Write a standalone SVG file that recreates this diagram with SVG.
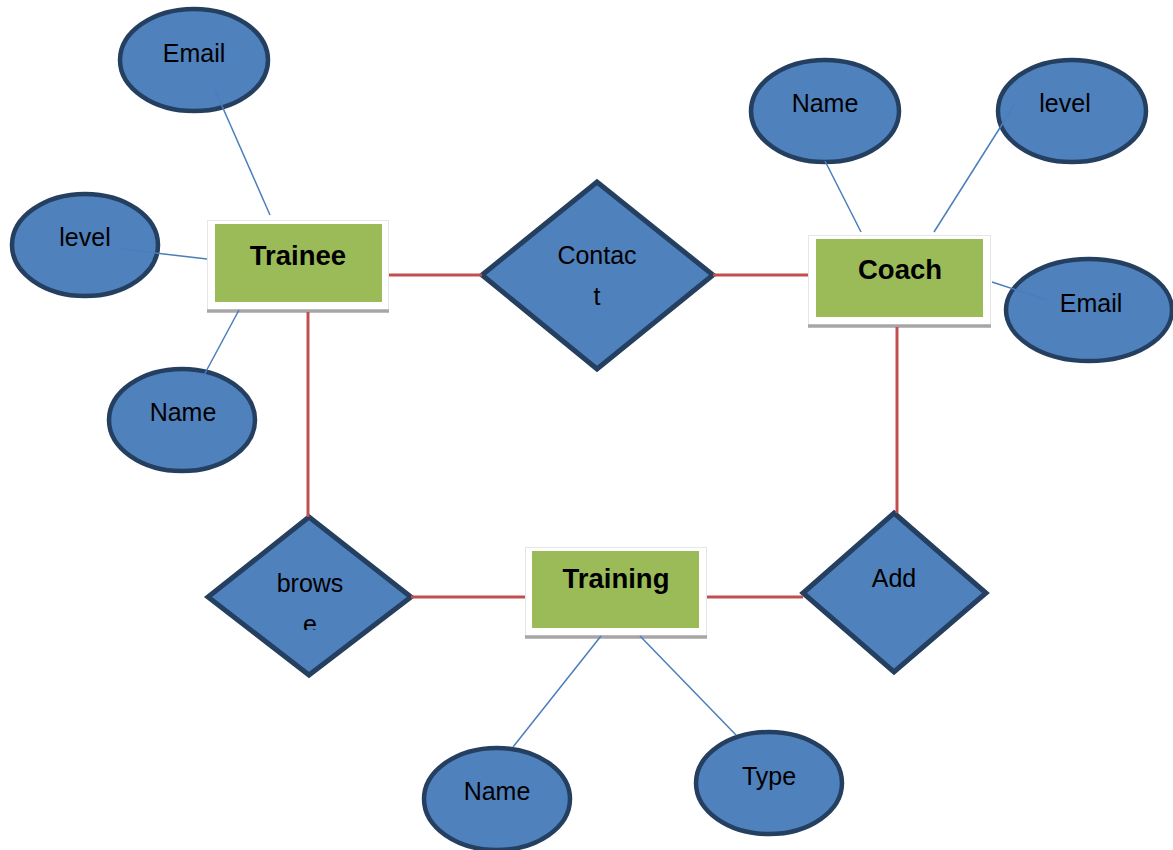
<svg xmlns="http://www.w3.org/2000/svg" width="1173" height="850" viewBox="0 0 1173 850">
<style>
.attr{fill:#4f81bd;stroke:#243f60;stroke-width:4.5}
.rel{fill:#4f81bd;stroke:#243f60;stroke-width:5;stroke-linejoin:miter}
.frame{fill:#ffffff;stroke:#e6e6e6;stroke-width:1}
.shadow{stroke:#a6a6a6;stroke-width:3.5}
.ent{fill:#9bbb59}
.t{font-family:"Liberation Sans",Arial,sans-serif;font-size:25px;fill:#000;text-anchor:middle}
.b{font-family:"Liberation Sans",Arial,sans-serif;font-size:27.5px;font-weight:bold;fill:#000;text-anchor:middle}
.red{stroke:#c0504d;stroke-width:3;fill:none}
.blue{stroke:#4a7ebb;stroke-width:1.5;fill:none}
</style>
<defs>
<clipPath id="clipBrowse"><rect x="200" y="500" width="230" height="130"/></clipPath>
</defs>
<rect width="1173" height="850" fill="#ffffff"/>

<g id="trainee">
<rect class="frame" x="207.5" y="220.5" width="181" height="90"/>
<line class="shadow" x1="207" y1="311" x2="389" y2="311"/>
<rect class="ent" x="215" y="224" width="167" height="78"/>
<text class="b" x="298" y="265">Trainee</text>
</g>
<g id="coach">
<rect class="frame" x="808.5" y="235.5" width="182" height="90"/>
<line class="shadow" x1="808" y1="326" x2="991" y2="326"/>
<rect class="ent" x="816" y="239" width="167" height="78"/>
<text class="b" x="900" y="279">Coach</text>
</g>
<g id="training">
<rect class="frame" x="525.5" y="547.5" width="181" height="89"/>
<line class="shadow" x1="525" y1="637" x2="707" y2="637"/>
<rect class="ent" x="532" y="551" width="167" height="77"/>
<text class="b" x="616" y="588">Training</text>
</g>

<g id="contact">
<polygon class="rel" points="597,182 713,275 597,369 482,275"/>
<text class="t" x="597" y="264">Contac</text>
<text class="t" x="597" y="305">t</text>
</g>
<g id="browse">
<polygon class="rel" points="309,517 411,597 309,675 208,597"/>
<text class="t" x="310" y="592">brows</text>
<text class="t" x="310" y="633" clip-path="url(#clipBrowse)">e</text>
</g>
<g id="add">
<polygon class="rel" points="894,513 986,593 894,672 803,593"/>
<text class="t" x="894" y="587">Add</text>
</g>

<g id="trainee-email">
<ellipse class="attr" cx="194" cy="60" rx="74" ry="51"/>
<text class="t" x="194" y="62">Email</text>
</g>
<g id="trainee-level">
<ellipse class="attr" cx="85" cy="245" rx="73" ry="51"/>
<text class="t" x="85" y="246">level</text>
</g>
<g id="trainee-name">
<ellipse class="attr" cx="182" cy="420" rx="73" ry="51"/>
<text class="t" x="183" y="421">Name</text>
</g>
<g id="coach-name">
<ellipse class="attr" cx="825" cy="111" rx="74" ry="51"/>
<text class="t" x="825" y="112">Name</text>
</g>
<g id="coach-level">
<ellipse class="attr" cx="1072" cy="111" rx="74" ry="51"/>
<text class="t" x="1065" y="112">level</text>
</g>
<g id="coach-email">
<ellipse class="attr" cx="1089" cy="310" rx="83" ry="51"/>
<text class="t" x="1091" y="312">Email</text>
</g>
<g id="training-name">
<ellipse class="attr" cx="497" cy="799" rx="73" ry="51"/>
<text class="t" x="497" y="800">Name</text>
</g>
<g id="training-type">
<ellipse class="attr" cx="769" cy="783" rx="73" ry="51"/>
<text class="t" x="769" y="785">Type</text>
</g>

<g id="connectors">
<line class="red" x1="389" y1="275" x2="482" y2="275"/>
<line class="red" x1="713" y1="275" x2="808" y2="275"/>
<line class="red" x1="308" y1="312" x2="308" y2="517"/>
<line class="red" x1="411" y1="597" x2="525" y2="597"/>
<line class="red" x1="707" y1="597" x2="803" y2="597"/>
<line class="red" x1="897" y1="327" x2="897" y2="513"/>
<line class="blue" x1="215" y1="90" x2="270" y2="215"/>
<line class="blue" x1="121" y1="249" x2="207" y2="259"/>
<line class="blue" x1="203" y1="377" x2="239" y2="310"/>
<line class="blue" x1="825" y1="161" x2="861" y2="232"/>
<line class="blue" x1="1015" y1="104" x2="934" y2="232"/>
<line class="blue" x1="992" y1="282" x2="1047" y2="300"/>
<line class="blue" x1="513" y1="747" x2="601" y2="636"/>
<line class="blue" x1="736" y1="735" x2="640" y2="636"/>
</g>
</svg>
